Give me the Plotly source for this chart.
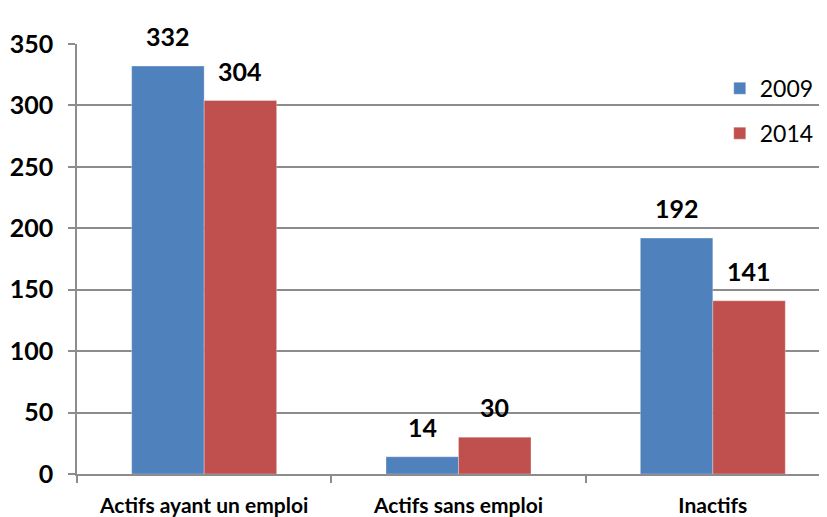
import plotly.graph_objects as go

categories = ["Actifs ayant un emploi", "Actifs sans emploi", "Inactifs"]
series_names = ["2009", "2014"]
values_2009 = [332, 14, 192]
values_2014 = [304, 30, 141]
y_ticks = [0, 50, 100, 150, 200, 250, 300, 350]

colors = ["#4F81BD", "#C0504D"]
grid = "#8C8C8C"
FONT = "Lato"

fig = go.Figure()
for name, vals, col in zip(series_names, [values_2009, values_2014], colors):
    fig.add_trace(go.Bar(
        x=categories, y=vals, name=name, legendgroup=name,
        marker=dict(color=col, line=dict(color="rgba(255,255,255,0.6)", width=0.5)),
        cliponaxis=False,
    ))

# figure sits at an 8px page offset; sizes below compensate
W, H = 819, 509
L, R, T, B = 69, 0, 36, 41
xmin, xmax = -0.5, 2.449
px_per_cat = (W - L - R) / (xmax - xmin)
bargap = 0.43
bar_w = px_per_cat * (1 - bargap) / 2
for i, vals in enumerate([values_2009, values_2014]):
    shift = (-0.5 if i == 0 else 0.5) * bar_w
    for c, v in zip(categories, vals):
        fig.add_annotation(
            x=c, y=v, xref="x", yref="y", text=str(v), showarrow=False,
            yanchor="bottom", yshift=13, xshift=shift,
            font=dict(family=FONT, size=25, color="#000000", weight="bold"),
        )

fig.update_layout(
    width=W, height=H,
    margin=dict(l=L, r=R, t=T, b=B),
    paper_bgcolor="white", plot_bgcolor="white",
    barmode="group", bargap=bargap, bargroupgap=0,
    showlegend=True,
    legend=dict(
        x=0.857, y=0.947, xanchor="left", yanchor="top",
        font=dict(family=FONT, size=23, color="#000000"),
        tracegroupgap=12, bgcolor="rgba(0,0,0,0)",
        itemwidth=30,
    ),
    xaxis=dict(
        type="category", range=[xmin, xmax],
        showline=True, linecolor=grid, linewidth=1.5,
        ticks="outside", ticklen=7, tickcolor=grid, tickwidth=1.5,
        tickson="boundaries", ticklabelstandoff=12,
        tickfont=dict(family=FONT, size=21, color="#000000", weight="bold"),
        showgrid=False,
    ),
    yaxis=dict(
        range=[0, 350], tickvals=y_ticks,
        showline=True, linecolor=grid, linewidth=1.5,
        ticks="outside", ticklen=7, tickcolor=grid, tickwidth=1.5,
        showgrid=True, gridcolor=grid, gridwidth=1.5,
        zeroline=False, ticklabelstandoff=10,
        tickfont=dict(family=FONT, size=25, color="#000000", weight="bold"),
    ),
)

fig.write_html("out.html")
